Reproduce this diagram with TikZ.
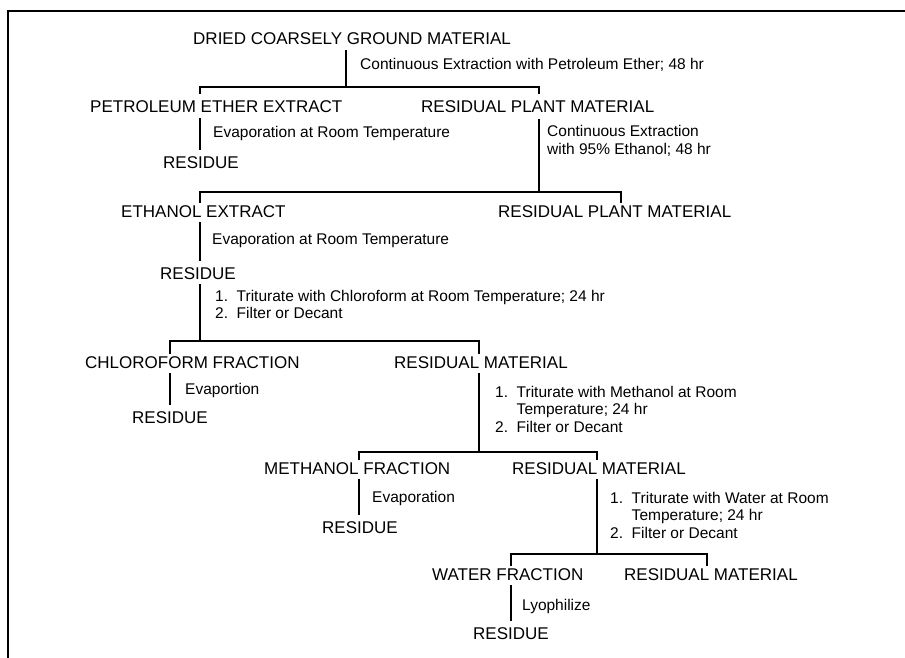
\documentclass[tikz,border=0pt]{standalone}
\usepackage{fontspec}
\setmainfont{Liberation Sans}
\begin{document}
\begin{tikzpicture}[x=1pt,y=-1pt,
  lbl/.style={anchor=base west,inner sep=0pt,font=\fontsize{17}{20}\selectfont},
  res/.style={anchor=base,inner sep=0pt,font=\fontsize{17}{20}\selectfont},
  step note/.style={anchor=base west,inner sep=0pt,font=\fontsize{15.5}{17.8}\selectfont},
  ln/.style={line width=1.1pt}]
\useasboundingbox (0,0) rectangle (905,658);
\draw[line width=1.4pt] (8,658) -- (8,11) -- (905,11);

% junctions of the brackets
\coordinate (j1) at (346,87);  \coordinate (b1l) at (200,87);  \coordinate (b1r) at (539,87);
\coordinate (j2) at (539,192); \coordinate (b2l) at (200,192); \coordinate (b2r) at (621,192);
\coordinate (j3) at (200,341); \coordinate (b3l) at (170,341); \coordinate (b3r) at (479,341);
\coordinate (j4) at (479,452); \coordinate (b4l) at (359,452); \coordinate (b4r) at (597,452);
\coordinate (j5) at (597,554); \coordinate (b5l) at (511,554); \coordinate (b5r) at (707,554);

\node[lbl] (dried) at (193,45) {DRIED COARSELY GROUND MATERIAL};
\node[step note] (c1) at (360,70) {Continuous Extraction with Petroleum Ether; 48 hr};

\node[lbl] (pet) at (90,113) {PETROLEUM ETHER EXTRACT};
\node[lbl] (plant1) at (421,113) {RESIDUAL PLANT MATERIAL};
\node[step note] (c2) at (213,138) {Evaporation at Room Temperature};
\node[res] (res1) at (201,168) {RESIDUE};
\node[step note] (c3) at (547,137) {\begin{tabular}[t]{@{}l@{}}Continuous Extraction\\ with 95\% Ethanol; 48 hr\end{tabular}};

\node[lbl] (ethx) at (121,217) {ETHANOL EXTRACT};
\node[lbl] (plant2) at (498,217) {RESIDUAL PLANT MATERIAL};
\node[step note] (c4) at (212,244) {Evaporation at Room Temperature};
\node[res] (res2) at (198,279) {RESIDUE};
\node[step note] (c5) at (215,301) {\begin{tabular}[t]{@{}l@{\ \ }l@{}}1. & Triturate with Chloroform at Room Temperature; 24 hr\\ 2. & Filter or Decant\end{tabular}};

\node[lbl] (chl) at (85,368) {CHLOROFORM FRACTION};
\node[lbl] (resm1) at (394,368) {RESIDUAL MATERIAL};
\node[step note] (c6) at (185,394) {Evaportion};
\node[res] (res3) at (170,423) {RESIDUE};
\node[step note] (c7) at (495,397) {\begin{tabular}[t]{@{}l@{\ \ }l@{}}1. & Triturate with Methanol at Room\\ & Temperature; 24 hr\\ 2. & Filter or Decant\end{tabular}};

\node[lbl] (meth) at (264,474) {METHANOL FRACTION};
\node[lbl] (resm2) at (512,474) {RESIDUAL MATERIAL};
\node[step note] (c8) at (372,502) {Evaporation};
\node[res] (res4) at (360,533) {RESIDUE};
\node[step note] (c9) at (610,503) {\begin{tabular}[t]{@{}l@{\ \ }l@{}}1. & Triturate with Water at Room\\ & Temperature; 24 hr\\ 2. & Filter or Decant\end{tabular}};

\node[lbl] (wat) at (432,580) {WATER FRACTION};
\node[lbl] (resm3) at (624,580) {RESIDUAL MATERIAL};
\node[step note] (c10) at (522,610) {Lyophilize};
\node[res] (res5) at (511,639) {RESIDUE};

% splits
\draw[ln,shorten <=5pt] (dried.south -| j1) -- (j1);
\draw[ln,shorten <=7pt,shorten >=7pt] (pet.north -| b1l) -- (b1l) -- (b1r) -- (plant1.north -| b1r);
\draw[ln,shorten <=6pt] (plant1.south -| j2) -- (j2);
\draw[ln,shorten <=2pt,shorten >=2pt] (ethx.north -| b2l) -- (b2l) -- (b2r) -- (plant2.north -| b2r);
\draw[ln,shorten <=5pt] (res2.south -| j3) -- (j3);
\draw[ln,shorten <=2pt,shorten >=2pt] (chl.north -| b3l) -- (b3l) -- (b3r) -- (resm1.north -| b3r);
\draw[ln,shorten <=5pt] (resm1.south -| j4) -- (j4);
\draw[ln,shorten <=2pt,shorten >=2pt] (meth.north -| b4l) -- (b4l) -- (b4r) -- (resm2.north -| b4r);
\draw[ln,shorten <=5pt] (resm2.south -| j5) -- (j5);
\draw[ln,shorten <=2pt,shorten >=2pt] (wat.north -| b5l) -- (b5l) -- (b5r) -- (resm3.north -| b5r);

% residues
\draw[ln,shorten <=5pt,shorten >=6pt] (pet.south -| b1l) -- (res1.north -| b1l);
\draw[ln,shorten <=5pt,shorten >=6pt] (ethx.south -| b2l) -- (res2.north -| b2l);
\draw[ln,shorten <=5pt,shorten >=6pt] (chl.south -| b3l) -- (res3.north -| b3l);
\draw[ln,shorten <=5pt,shorten >=6pt] (meth.south -| b4l) -- (res4.north -| b4l);
\draw[ln,shorten <=5pt,shorten >=6pt] (wat.south -| b5l) -- (res5.north -| b5l);
\end{tikzpicture}
\end{document}
